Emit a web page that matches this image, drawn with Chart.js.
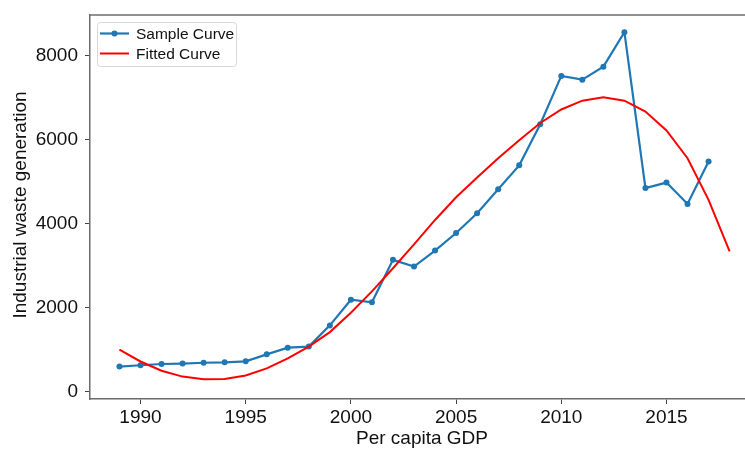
<!DOCTYPE html>
<html>
<head>
<meta charset="utf-8">
<script src="https://cdn.jsdelivr.net/npm/chart.js@4.4.1/dist/chart.umd.min.js"></script>
<style>
  html, body { margin: 0; padding: 0; overflow: hidden; background: #fff; }
  #wrap { width: 770px; height: 449px; }
</style>
</head>
<body>
<div id="wrap"><canvas id="wasteChart" width="770" height="449"></canvas></div>
<script>
const years = [1989, 1990, 1991, 1992, 1993, 1994, 1995, 1996, 1997, 1998,
  1999, 2000, 2001, 2002, 2003, 2004, 2005, 2006, 2007, 2008,
  2009, 2010, 2011, 2012, 2013, 2014, 2015, 2016, 2017];
const sampleValues = [590, 620, 650, 660, 680, 690, 715, 880, 1040, 1065,
  1570, 2180, 2120, 3130, 2970, 3350, 3770, 4240, 4810, 5380,
  6360, 7510, 7420, 7730, 8550, 4840, 4970, 4460, 5470];
const fitYears = [1989, 1990, 1991, 1992, 1993, 1994, 1995, 1996, 1997, 1998,
  1999, 2000, 2001, 2002, 2003, 2004, 2005, 2006, 2007, 2008,
  2009, 2010, 2011, 2012, 2013, 2014, 2015, 2016, 2017, 2018];
const fitValues = [990, 710, 490, 350, 285, 295, 375, 545, 785, 1065,
  1410, 1870, 2380, 2930, 3500, 4080, 4620, 5090, 5550, 5980,
  6390, 6710, 6920, 7000, 6920, 6660, 6210, 5550, 4560, 3330];
const xTicks = [1990, 1995, 2000, 2005, 2010, 2015];
const yTicks = [0, 2000, 4000, 6000, 8000];

const FONT = '"Liberation Sans", Arial, sans-serif';

// top spine (axes run off the right edge) + axis titles
const framePlugin = {
  id: 'frame',
  afterDraw(chart) {
    const { ctx, chartArea } = chart;
    ctx.save();
    ctx.strokeStyle = '#6b6b6b';
    ctx.lineWidth = 1.5;
    ctx.beginPath();
    ctx.moveTo(chartArea.left, chartArea.top);
    ctx.lineTo(chart.width, chartArea.top);
    ctx.stroke();

    ctx.fillStyle = '#111';
    ctx.font = '19px ' + FONT;
    ctx.textAlign = 'center';
    ctx.textBaseline = 'alphabetic';
    ctx.fillText('Per capita GDP', 422, 444);

    ctx.translate(21, 205);
    ctx.rotate(-Math.PI / 2);
    ctx.textBaseline = 'middle';
    ctx.fillText('Industrial waste generation', 0, 0);
    ctx.restore();
  }
};

// legend box in the upper left corner
const legendPlugin = {
  id: 'boxLegend',
  afterDraw(chart) {
    const { ctx } = chart;
    const x = 97, y = 22, w = 139, h = 44;
    ctx.save();
    ctx.fillStyle = 'rgba(255,255,255,0.85)';
    ctx.strokeStyle = '#d8d8d8';
    ctx.lineWidth = 1;
    ctx.beginPath();
    ctx.roundRect(x + 0.5, y + 0.5, w, h, 3);
    ctx.fill();
    ctx.stroke();

    ctx.font = '15.5px ' + FONT;
    ctx.textBaseline = 'middle';
    ctx.textAlign = 'left';
    chart.data.datasets.forEach((ds, i) => {
      const ly = 33.5 + i * 20;
      ctx.strokeStyle = ds.borderColor;
      ctx.lineWidth = ds.borderWidth;
      ctx.beginPath();
      ctx.moveTo(100, ly);
      ctx.lineTo(129, ly);
      ctx.stroke();
      if (ds.pointRadius > 0) {
        ctx.fillStyle = ds.borderColor;
        ctx.beginPath();
        ctx.arc(114.5, ly, ds.pointRadius, 0, Math.PI * 2);
        ctx.fill();
      }
      ctx.fillStyle = '#111';
      ctx.fillText(ds.label, 136, ly + 1);
    });
    ctx.restore();
  }
};

new Chart(document.getElementById('wasteChart'), {
  type: 'line',
  data: {
    datasets: [{
      label: 'Sample Curve',
      data: years.map((yr, i) => ({ x: yr, y: sampleValues[i] })),
      borderColor: '#1f77b4',
      backgroundColor: '#1f77b4',
      borderWidth: 2.2,
      pointRadius: 3,
      pointBorderWidth: 0,
      pointBackgroundColor: '#1f77b4',
      tension: 0,
      order: 1
    }, {
      label: 'Fitted Curve',
      data: fitYears.map((yr, i) => ({ x: yr, y: fitValues[i] })),
      borderColor: '#ff0000',
      backgroundColor: '#ff0000',
      borderWidth: 2,
      pointRadius: 0,
      tension: 0,
      order: 0
    }]
  },
  options: {
    responsive: false,
    animation: false,
    devicePixelRatio: 1,
    layout: { padding: { top: 15, left: 0, right: 0, bottom: 0 } },
    plugins: {
      legend: { display: false },
      tooltip: { enabled: false }
    },
    scales: {
      x: {
        type: 'linear',
        min: 1987.6,
        max: 2019.73,
        afterBuildTicks: (scale) => { scale.ticks = xTicks.map(v => ({ value: v })); },
        afterFit: (scale) => {
          scale.height = 50;
          scale.paddingLeft = 0;
          scale.paddingRight = 0;
        },
        grid: { drawOnChartArea: false, drawTicks: true, tickLength: 5, color: '#444' },
        border: { display: true, color: '#6b6b6b', width: 1.5 },
        ticks: {
          color: '#111',
          font: { family: FONT, size: 19 },
          padding: 2,
          maxRotation: 0,
          callback: (v) => String(v)
        }
      },
      y: {
        type: 'linear',
        min: -183,
        max: 8960,
        afterBuildTicks: (scale) => { scale.ticks = yTicks.map(v => ({ value: v })); },
        afterFit: (scale) => {
          scale.width = 90;
          scale.paddingTop = 0;
          scale.paddingBottom = 0;
        },
        grid: { drawOnChartArea: false, drawTicks: true, tickLength: 5, color: '#444' },
        border: { display: true, color: '#6b6b6b', width: 1.5 },
        ticks: {
          color: '#111',
          font: { family: FONT, size: 19 },
          padding: 7,
          callback: (v) => String(v)
        }
      }
    }
  },
  plugins: [framePlugin, legendPlugin]
});
</script>
</body>
</html>
